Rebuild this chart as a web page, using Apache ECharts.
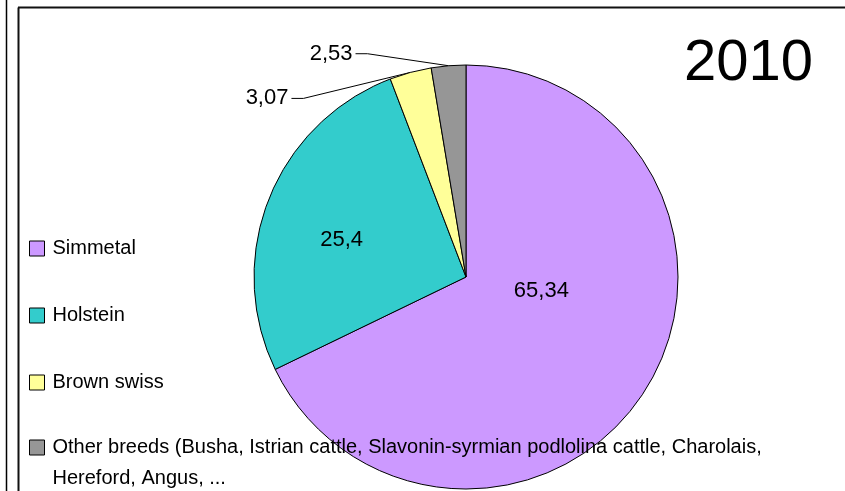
<!DOCTYPE html>
<html>
<head>
<meta charset="utf-8">
<script src="https://cdn.jsdelivr.net/npm/echarts@6/dist/echarts.min.js"></script>
<style>
  html, body { margin: 0; padding: 0; background: #ffffff; }
  #main { width: 845px; height: 491px; }
</style>
</head>
<body>
<div id="main"></div>
<script>
// breeds and their shares for 2010
var breeds = ["Simmetal", "Holstein", "Brown swiss",
  "Other breeds (Busha, Istrian cattle, Slavonin-syrmian podlolina cattle, Charolais, Hereford, Angus, ..."];
var shares = [65.34, 25.4, 3.07, 2.53];
var breedColors = ["#cc99ff", "#33cccc", "#ffff99", "#969696"];
var yearTitle = "2010";

var fontName = "'Liberation Sans', Arial, sans-serif";

// label nudges (dx, dy) so the numbers sit where the old chart had them
var labelShift = [[-17, -44], [-23, 3], [-119, 26], [-93, -12]];

function pieInit() {
  var myChart = echarts.init(document.getElementById("main"));
  var pieData = [];
  for (var i = 0; i < breeds.length; i++) {
    pieData.push({
      name: breeds[i],
      value: shares[i],
      itemStyle: { color: breedColors[i] },
      label: { position: i < 2 ? "inside" : "outside" },
      labelLine: { show: i >= 2 }
    });
  }
  var option = {
    backgroundColor: "#ffffff",
    animation: false,
    title: {
      text: yearTitle,
      left: 684,
      top: 35,
      padding: 0,
      textStyle: { fontFamily: fontName, fontWeight: "normal", fontSize: 58, color: "#000000" }
    },
    legend: [
      {
        orient: "vertical",
        left: 29,
        top: 233,
        padding: 0,
        itemWidth: 15,
        itemHeight: 15,
        itemGap: 36,
        icon: "rect",
        selectedMode: false,
        data: breeds.slice(0, 3),
        itemStyle: { borderColor: "#000000", borderWidth: 1 },
        textStyle: { fontFamily: fontName, fontSize: 20, lineHeight: 31, color: "#000000", padding: [0, 0, 0, 3] }
      },
      {
        orient: "vertical",
        left: 29,
        top: 401,
        padding: 0,
        itemWidth: 15,
        itemHeight: 15,
        icon: "rect",
        selectedMode: false,
        data: breeds.slice(3),
        itemStyle: { borderColor: "#000000", borderWidth: 1 },
        // empty first line keeps the icon level with "Other breeds"
        formatter: function(name) {
          return "\n" + name.replace(", Hereford", ",\nHereford");
        },
        textStyle: { fontFamily: fontName, fontSize: 20, lineHeight: 31, color: "#000000", padding: [0, 0, 0, 3] }
      }
    ],
    graphic: [
      { type: "line", shape: { x1: 6.5, y1: 0, x2: 6.5, y2: 491 }, style: { stroke: "#000000", lineWidth: 1.5 } },
      { type: "line", shape: { x1: 18.5, y1: 7.5, x2: 18.5, y2: 491 }, style: { stroke: "#111111", lineWidth: 2 } },
      { type: "line", shape: { x1: 18, y1: 7.5, x2: 845, y2: 7.5 }, style: { stroke: "#111111", lineWidth: 2 } }
    ],
    series: [
      {
        type: "pie",
        center: [466, 277],
        radius: 212,
        startAngle: 90,
        clockwise: true,
        avoidLabelOverlap: false,
        itemStyle: { borderColor: "#000000", borderWidth: 1 },
        label: {
          show: true,
          fontFamily: fontName,
          fontSize: 22,
          color: "#000000",
          formatter: function(p) {
            return String(p.value).replace(".", ",");
          }
        },
        labelLine: {
          length: 10,
          length2: 10,
          lineStyle: { color: "#000000", width: 1 }
        },
        labelLayout: function(p) {
          var s = labelShift[p.dataIndex];
          var r = p.labelRect;
          if (p.dataIndex < 2 || !p.labelLinePoints) {
            return {
              x: r.x + r.width / 2 + s[0],
              y: r.y + r.height / 2 + s[1],
              align: "center",
              verticalAlign: "middle"
            };
          }
          var e = p.labelLinePoints[0];
          var ex = e[0] + s[0], ey = e[1] + s[1];
          return {
            x: ex - 3,
            y: ey,
            align: "right",
            verticalAlign: "middle",
            labelLinePoints: [e, [ex + 12, ey], [ex, ey]]
          };
        },
        data: pieData
      }
    ]
  };
  myChart.setOption(option);
}
pieInit();
</script>
</body>
</html>
